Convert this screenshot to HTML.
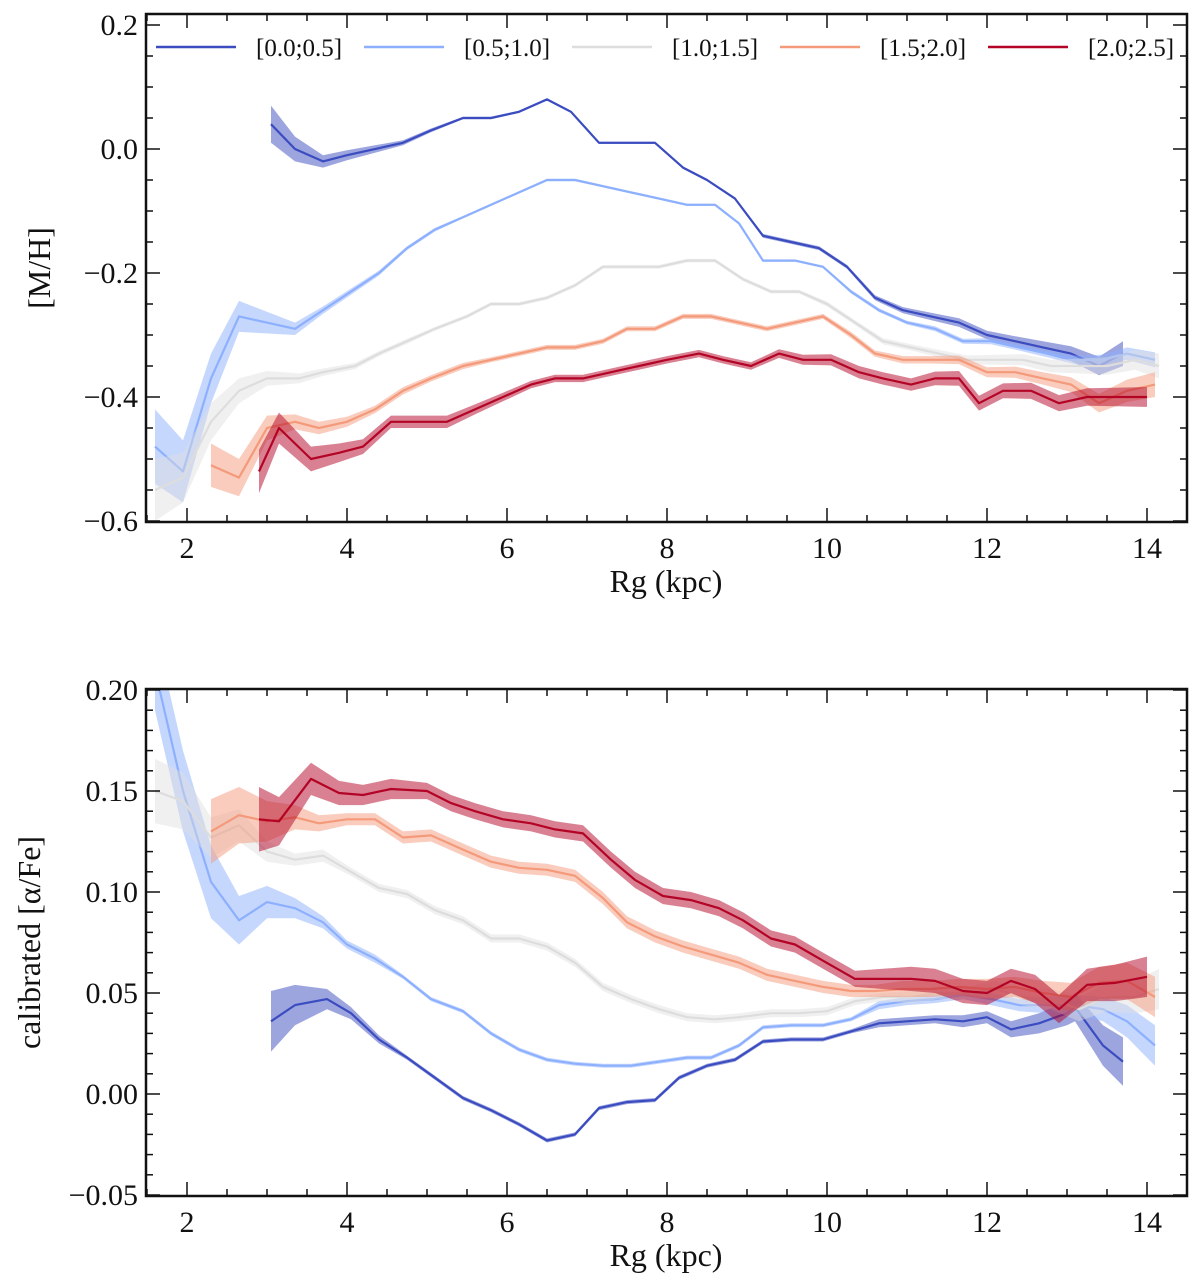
<!DOCTYPE html>
<html><head><meta charset="utf-8"><style>
body{margin:0;background:#fff}
svg{display:block}
text{font-family:"Liberation Serif","DejaVu Serif",serif;fill:#111}
</style></head><body>
<svg id="c" width="1200" height="1280" xmlns="http://www.w3.org/2000/svg"></svg>
<script>
const labels=["[0.0;0.5]","[0.5;1.0]","[1.0;1.5]","[1.5;2.0]","[2.0;2.5]"];
const colors=["#3b4cc0","#8db0fe","#dddddd","#f49a7b","#b40426"];
// top panel [M/H]
const mhX0=[3.05,3.35,3.7,4.0,4.7,5.05,5.45,5.8,6.15,6.5,6.8,7.15,7.5,7.85,8.2,8.5,8.85,9.2,9.55,9.9,10.25,10.6,10.95,11.3,11.65,12.0,12.35,12.7,13.05,13.4,13.7];
const mhY0=[0.04,0.0,-0.02,-0.01,0.01,0.03,0.05,0.05,0.06,0.08,0.06,0.01,0.01,0.01,-0.03,-0.05,-0.08,-0.14,-0.15,-0.16,-0.19,-0.24,-0.26,-0.27,-0.28,-0.30,-0.31,-0.32,-0.33,-0.35,-0.33];
const mhE0=[0.03,0.02,0.01,0.008,0.004,0.003,0.002,0.002,0.002,0.002,0.002,0.002,0.002,0.002,0.002,0.002,0.002,0.003,0.003,0.003,0.003,0.004,0.005,0.006,0.007,0.007,0.008,0.01,0.012,0.015,0.02];
const mhX1=[1.6,1.95,2.3,2.65,3.35,3.7,4.05,4.4,4.75,5.1,5.45,5.8,6.15,6.5,6.85,7.2,7.55,7.9,8.25,8.6,8.9,9.2,9.6,9.95,10.3,10.65,11.0,11.35,11.7,12.05,12.4,12.75,13.1,13.45,13.75,14.1];
const mhY1=[-0.48,-0.52,-0.37,-0.27,-0.29,-0.26,-0.23,-0.2,-0.16,-0.13,-0.11,-0.09,-0.07,-0.05,-0.05,-0.06,-0.07,-0.08,-0.09,-0.09,-0.12,-0.18,-0.18,-0.19,-0.23,-0.26,-0.28,-0.29,-0.31,-0.31,-0.32,-0.33,-0.34,-0.34,-0.33,-0.34];
const mhE1=[0.06,0.05,0.04,0.025,0.01,0.006,0.005,0.004,0.003,0.003,0.002,0.002,0.002,0.002,0.002,0.002,0.002,0.002,0.002,0.002,0.002,0.002,0.002,0.002,0.003,0.003,0.003,0.004,0.004,0.005,0.005,0.006,0.007,0.008,0.01,0.012];
const mhX2=[1.6,1.95,2.3,2.65,3.0,3.4,3.7,4.1,4.4,4.75,5.1,5.5,5.8,6.15,6.5,6.85,7.2,7.55,7.9,8.25,8.6,8.95,9.3,9.65,10.0,10.35,10.7,11.05,11.4,11.75,12.1,12.45,12.8,13.15,13.5,13.85,14.15];
const mhY2=[-0.55,-0.53,-0.44,-0.39,-0.37,-0.37,-0.36,-0.35,-0.33,-0.31,-0.29,-0.27,-0.25,-0.25,-0.24,-0.22,-0.19,-0.19,-0.19,-0.18,-0.18,-0.21,-0.23,-0.23,-0.25,-0.28,-0.31,-0.32,-0.33,-0.34,-0.34,-0.34,-0.35,-0.35,-0.35,-0.34,-0.35];
const mhE2=[0.05,0.04,0.03,0.02,0.012,0.008,0.006,0.005,0.004,0.004,0.003,0.003,0.003,0.003,0.003,0.003,0.003,0.003,0.003,0.003,0.003,0.003,0.003,0.003,0.004,0.004,0.005,0.005,0.006,0.007,0.008,0.009,0.01,0.012,0.014,0.016,0.02];
const mhX3=[2.3,2.65,3.0,3.35,3.65,4.0,4.35,4.7,5.05,5.45,5.8,6.15,6.5,6.85,7.2,7.5,7.85,8.2,8.55,8.9,9.25,9.6,9.95,10.3,10.6,10.95,11.3,11.65,12.0,12.35,12.7,13.05,13.4,13.75,14.1];
const mhY3=[-0.51,-0.53,-0.45,-0.44,-0.45,-0.44,-0.42,-0.39,-0.37,-0.35,-0.34,-0.33,-0.32,-0.32,-0.31,-0.29,-0.29,-0.27,-0.27,-0.28,-0.29,-0.28,-0.27,-0.30,-0.33,-0.34,-0.34,-0.34,-0.36,-0.36,-0.37,-0.38,-0.41,-0.39,-0.38];
const mhE3=[0.035,0.03,0.02,0.012,0.01,0.008,0.006,0.006,0.005,0.005,0.004,0.004,0.004,0.004,0.004,0.004,0.004,0.004,0.004,0.004,0.004,0.004,0.004,0.005,0.005,0.006,0.006,0.007,0.008,0.009,0.01,0.012,0.015,0.018,0.02];
const mhX4=[2.9,3.15,3.55,3.9,4.2,4.55,5.25,5.6,5.95,6.3,6.6,6.95,7.3,7.65,8.0,8.4,8.7,9.05,9.4,9.7,10.05,10.4,10.7,11.05,11.35,11.65,11.9,12.2,12.55,12.9,13.25,13.6,14.0];
const mhY4=[-0.52,-0.45,-0.50,-0.49,-0.48,-0.44,-0.44,-0.42,-0.40,-0.38,-0.37,-0.37,-0.36,-0.35,-0.34,-0.33,-0.34,-0.35,-0.33,-0.34,-0.34,-0.36,-0.37,-0.38,-0.37,-0.37,-0.41,-0.39,-0.39,-0.41,-0.40,-0.40,-0.40];
const mhE4=[0.035,0.025,0.02,0.015,0.012,0.01,0.01,0.008,0.007,0.006,0.006,0.006,0.006,0.006,0.006,0.006,0.006,0.006,0.007,0.008,0.009,0.01,0.01,0.01,0.011,0.012,0.012,0.012,0.013,0.013,0.014,0.015,0.016];
// bottom panel [alpha/Fe]
const afX0=[3.05,3.35,3.75,4.05,4.4,4.75,5.1,5.45,5.8,6.15,6.5,6.85,7.15,7.5,7.85,8.15,8.5,8.85,9.2,9.55,9.95,10.3,10.65,11.0,11.35,11.7,12.0,12.3,12.65,13.0,13.1,13.45,13.7];
const afY0=[0.036,0.044,0.047,0.04,0.027,0.018,0.008,-0.002,-0.008,-0.015,-0.023,-0.02,-0.007,-0.004,-0.003,0.008,0.014,0.017,0.026,0.027,0.027,0.031,0.035,0.036,0.037,0.036,0.038,0.032,0.035,0.04,0.043,0.024,0.016];
const afE0=[0.015,0.01,0.005,0.003,0.002,0.001,0.001,0.001,0.001,0.001,0.001,0.001,0.001,0.001,0.001,0.001,0.001,0.001,0.001,0.001,0.001,0.001,0.002,0.002,0.002,0.003,0.003,0.004,0.005,0.006,0.007,0.01,0.012];
const afX1=[1.6,1.95,2.3,2.65,3.0,3.35,3.7,4.0,4.35,4.7,5.05,5.45,5.8,6.15,6.5,6.85,7.2,7.55,7.9,8.25,8.55,8.9,9.2,9.55,9.95,10.3,10.65,11.0,11.35,11.7,12.05,12.4,12.75,13.1,13.45,13.75,14.1];
const afY1=[0.21,0.15,0.105,0.086,0.095,0.092,0.085,0.074,0.067,0.058,0.047,0.041,0.03,0.022,0.017,0.015,0.014,0.014,0.016,0.018,0.018,0.024,0.033,0.034,0.034,0.037,0.044,0.046,0.047,0.049,0.047,0.044,0.044,0.044,0.042,0.036,0.024];
const afE1=[0.02,0.02,0.018,0.012,0.008,0.005,0.003,0.002,0.002,0.001,0.001,0.001,0.001,0.001,0.001,0.001,0.001,0.001,0.001,0.001,0.001,0.001,0.001,0.001,0.001,0.001,0.002,0.002,0.002,0.002,0.003,0.003,0.004,0.005,0.006,0.008,0.01];
const afX2=[1.6,1.95,2.3,2.65,3.0,3.35,3.7,4.05,4.4,4.75,5.1,5.45,5.8,6.15,6.5,6.85,7.2,7.55,7.9,8.25,8.6,8.9,9.3,9.65,10.0,10.35,10.7,11.05,11.4,11.75,12.1,12.45,12.8,13.15,13.5,13.85,14.15];
const afY2=[0.15,0.145,0.127,0.133,0.12,0.116,0.118,0.11,0.102,0.099,0.091,0.086,0.077,0.077,0.073,0.065,0.053,0.047,0.042,0.038,0.037,0.038,0.04,0.04,0.041,0.046,0.048,0.048,0.05,0.05,0.052,0.048,0.047,0.042,0.048,0.048,0.052];
const afE2=[0.016,0.014,0.01,0.008,0.005,0.003,0.003,0.002,0.002,0.002,0.002,0.002,0.002,0.002,0.002,0.002,0.002,0.002,0.002,0.002,0.002,0.002,0.002,0.002,0.002,0.002,0.002,0.003,0.003,0.003,0.004,0.004,0.005,0.006,0.007,0.008,0.01];
const afX3=[2.3,2.65,3.0,3.35,3.65,4.0,4.35,4.7,5.05,5.45,5.8,6.15,6.5,6.85,7.2,7.5,7.85,8.2,8.55,8.9,9.25,9.6,9.95,10.3,10.6,10.95,11.3,11.65,12.0,12.35,12.7,13.05,13.4,13.75,14.1];
const afY3=[0.13,0.138,0.135,0.137,0.134,0.136,0.136,0.127,0.128,0.121,0.115,0.112,0.111,0.108,0.097,0.085,0.078,0.073,0.069,0.065,0.059,0.056,0.053,0.051,0.051,0.052,0.052,0.053,0.052,0.053,0.05,0.048,0.055,0.056,0.048];
const afE3=[0.016,0.014,0.01,0.006,0.004,0.003,0.003,0.003,0.003,0.003,0.003,0.003,0.003,0.003,0.003,0.003,0.003,0.003,0.003,0.003,0.003,0.003,0.003,0.003,0.003,0.004,0.004,0.004,0.005,0.005,0.006,0.007,0.008,0.009,0.01];
const afX4=[2.9,3.15,3.55,3.9,4.2,4.55,5.0,5.3,5.6,5.95,6.3,6.6,6.95,7.3,7.6,7.95,8.3,8.65,8.95,9.3,9.6,9.95,10.35,10.7,11.05,11.35,11.7,12.0,12.3,12.6,12.9,13.25,13.6,14.0];
const afY4=[0.136,0.135,0.156,0.149,0.148,0.151,0.15,0.144,0.14,0.136,0.134,0.131,0.129,0.116,0.106,0.098,0.096,0.092,0.086,0.077,0.074,0.066,0.057,0.057,0.057,0.056,0.051,0.05,0.056,0.052,0.042,0.054,0.055,0.058];
const afE4=[0.016,0.012,0.008,0.006,0.005,0.005,0.004,0.004,0.004,0.004,0.004,0.004,0.004,0.004,0.004,0.004,0.004,0.004,0.004,0.004,0.004,0.004,0.004,0.005,0.006,0.006,0.006,0.006,0.006,0.007,0.007,0.008,0.009,0.01];
const xTicks=[2,4,6,8,10,12,14];
const mhTicks=[0.2,0.0,-0.2,-0.4,-0.6];
const mhTickLabels=["0.2","0.0","−0.2","−0.4","−0.6"];
const afTicks=[0.20,0.15,0.10,0.05,0.00,-0.05];
const afTickLabels=["0.20","0.15","0.10","0.05","0.00","−0.05"];

const NS="http://www.w3.org/2000/svg";
const svg=document.getElementById('c');
function mk(tag,attrs,parent){const e=document.createElementNS(NS,tag);for(const k in attrs)e.setAttribute(k,attrs[k]);(parent||svg).appendChild(e);return e;}

function panel(cfg){
  const L=146,R=1187,T=cfg.top,B=cfg.bottom;
  const xs=v=>187+(v-2)*80;
  const ys=v=>cfg.y0px-(v-cfg.y0)*cfg.ppu;
  const g=mk('g',{});
  
  
  const clipId='clip'+cfg.name;
  const cp=mk('clipPath',{id:clipId},g);mk('rect',{x:L,y:T,width:R-L,height:B-T},cp);
  const dg=mk('g',{'clip-path':'url(#'+clipId+')'},g);
  for(let s=0;s<5;s++){
    const X=cfg.X[s],Y=cfg.Y[s],E=cfg.E[s];
    let up=[],dn=[];
    for(let i=0;i<X.length;i++){up.push(xs(X[i]).toFixed(1)+','+ys(Y[i]+E[i]).toFixed(1));dn.unshift(xs(X[i]).toFixed(1)+','+ys(Y[i]-E[i]).toFixed(1));}
    const band=mk('polygon',{points:up.concat(dn).join(' '),fill:colors[s],'fill-opacity':s==2?0.45:0.5,stroke:'none'},dg);
    
    
    const pts=X.map((x,i)=>xs(x).toFixed(1)+','+ys(Y[i]).toFixed(1)).join(' ');
    const ln=mk('polyline',{points:pts,fill:'none',stroke:colors[s],'stroke-width':2.2,'stroke-linejoin':'round'},dg);
    
    
  }
  const tk=mk('g',{stroke:'#111','stroke-width':1.5},g);
  for(let v=1.5;v<=14.5;v+=0.5){const x=xs(v);const maj=Math.abs(v/2-Math.round(v/2))<1e-6;const l=maj?14:7;
    mk('line',{x1:x,y1:B,x2:x,y2:B-l},tk);mk('line',{x1:x,y1:T,x2:x,y2:T+l},tk);}
  for(let k=Math.ceil(cfg.ymin/cfg.minor-1e-6);k*cfg.minor<=cfg.ymax+1e-9;k++){const v=k*cfg.minor;const y=ys(v);
    const maj=cfg.majorTicks.some(m=>Math.abs(m-v)<1e-6);const l=maj?14:7;
    mk('line',{x1:L,y1:y,x2:L+l,y2:y},tk);mk('line',{x1:R,y1:y,x2:R-l,y2:y},tk);}
  mk('rect',{x:L,y:T,width:R-L,height:B-T,fill:'none',stroke:'#111','stroke-width':2.5},g);
  xTicks.forEach(v=>{const t=mk('text',{x:xs(v),y:B+36,'text-anchor':'middle','font-size':30},g);t.textContent=v;
    });
  cfg.majorTicks.forEach((v,i)=>{const t=mk('text',{x:L-8,y:ys(v)+10,'text-anchor':'end','font-size':30},g);t.textContent=cfg.tickLabels[i];
    });
  const xt=mk('text',{x:666,y:B+70,'text-anchor':'middle','font-size':32},g);xt.textContent='Rg (kpc)';
  
  const yt=mk('text',{x:0,y:0,'text-anchor':'middle','font-size':32,transform:'translate('+cfg.ytx+','+((T+B)/2)+') rotate(-90)'},g);yt.textContent=cfg.ytitle;
  
}
panel({name:'mh-panel',top:14,bottom:522,y0:0,y0px:149,ppu:620,ymin:-0.6,ymax:0.218,minor:0.05,majorTicks:mhTicks,tickLabels:mhTickLabels,
  X:[mhX0,mhX1,mhX2,mhX3,mhX4],Y:[mhY0,mhY1,mhY2,mhY3,mhY4],E:[mhE0,mhE1,mhE2,mhE3,mhE4],ytitle:'[M/H]',ytx:50});
panel({name:'alphafe-panel',top:689,bottom:1196,y0:0,y0px:1094,ppu:2020,ymin:-0.05,ymax:0.2,minor:0.01,majorTicks:afTicks,tickLabels:afTickLabels,
  X:[afX0,afX1,afX2,afX3,afX4],Y:[afY0,afY1,afY2,afY3,afY4],E:[afE0,afE1,afE2,afE3,afE4],ytitle:'calibrated [α/Fe]',ytx:40});
const lg=mk('g',{});


const legX=[156,364,572,780,988];
for(let s=0;s<5;s++){
  const e=mk('g',{},lg);
  
  
  mk('line',{x1:legX[s],y1:47,x2:legX[s]+80,y2:47,stroke:colors[s],'stroke-width':2.5},e);
  const t=mk('text',{x:legX[s]+100,y:56,'font-size':25},e);t.textContent=labels[s];
}
</script>
</body></html>
